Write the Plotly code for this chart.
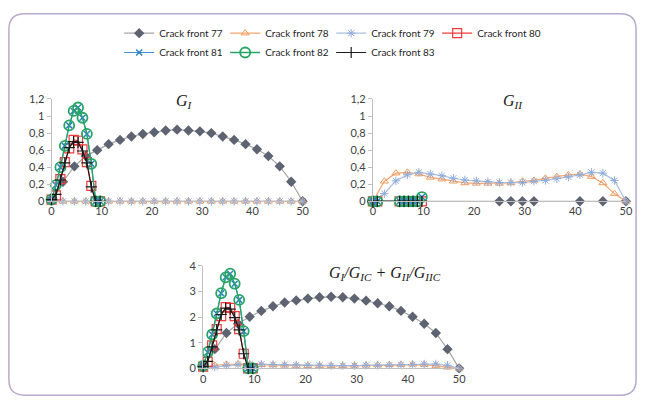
import plotly.graph_objects as go

# ---------------- data ----------------
series_names = ["Crack front 77", "Crack front 78", "Crack front 79", "Crack front 80",
                "Crack front 81", "Crack front 82", "Crack front 83"]

# long crack fronts (77, 78, 79) positions
x_long = [0, 2.27, 4.55, 6.82, 9.09, 11.36, 13.64, 15.91, 18.18, 20.45, 22.73, 25,
          27.27, 29.55, 31.82, 34.09, 36.36, 38.64, 40.91, 43.18, 45.45, 47.73, 50]
# short crack fronts (80-83) positions
x_short = [0, 0.88, 1.76, 2.64, 3.52, 4.4, 5.28, 6.16, 7.04, 7.92, 8.8, 9.68]

# ---- G_I ----
gi_77 = [0.02, 0.23, 0.41, 0.53, 0.60, 0.67, 0.72, 0.76, 0.79, 0.81, 0.83, 0.84,
         0.83, 0.82, 0.80, 0.76, 0.72, 0.67, 0.61, 0.53, 0.41, 0.23, 0]
gi_78 = [0] * 23
gi_79 = [0] * 23
gi_80 = [0.02, 0.07, 0.26, 0.46, 0.62, 0.72, 0.71, 0.61, 0.46, 0.18, 0, 0]
gi_81 = [0.02, 0.19, 0.40, 0.65, 0.89, 1.06, 1.10, 0.98, 0.79, 0.44, 0, 0]
gi_82 = [0.02, 0.19, 0.40, 0.65, 0.89, 1.06, 1.10, 0.98, 0.79, 0.44, 0, 0]
gi_83 = [0.02, 0.08, 0.25, 0.45, 0.63, 0.70, 0.69, 0.59, 0.45, 0.17, 0, 0]

# ---- G_II ----
gii_77 = [0, None, None, None, None, None, None, None, None, None, None, 0,
          0, 0, 0, None, None, None, 0, None, 0, None, 0]
gii_78 = [0, 0.235, 0.33, 0.34, 0.32, 0.28, 0.26, 0.235, 0.215, 0.21, 0.21, 0.21,
          0.215, 0.235, 0.245, 0.27, 0.29, 0.31, 0.32, 0.29, 0.215, 0.09, 0]
gii_79 = [0, 0.09, 0.24, 0.31, 0.34, 0.32, 0.30, 0.27, 0.25, 0.24, 0.23, 0.22,
          0.22, 0.22, 0.235, 0.245, 0.265, 0.285, 0.31, 0.34, 0.33, 0.245, 0]
gii_80 = [0, 0, None, None, None, None, 0, 0, 0, 0, 0, 0]
gii_81 = [0, 0, None, None, None, None, 0, 0, 0, 0, 0, 0.05]
gii_82 = [0, 0, None, None, None, None, 0, 0, 0, 0, 0, 0.05]
gii_83 = [0, 0, None, None, None, None, 0, 0, 0, 0, 0, 0]

# ---- G_I/G_IC + G_II/G_IIC ----
gc_77 = [0.09, 0.75, 1.38, 1.74, 2.01, 2.24, 2.42, 2.57, 2.65, 2.72, 2.77, 2.79,
         2.77, 2.72, 2.64, 2.54, 2.42, 2.24, 2.01, 1.74, 1.38, 0.75, 0]
gc_78 = [0, 0.12, 0.16, 0.17, 0.16, 0.14, 0.13, 0.12, 0.11, 0.10, 0.10, 0.10,
         0.10, 0.11, 0.12, 0.13, 0.14, 0.15, 0.16, 0.15, 0.11, 0.04, 0]
gc_79 = [0, 0.05, 0.12, 0.15, 0.17, 0.16, 0.15, 0.14, 0.13, 0.12, 0.12, 0.11,
         0.11, 0.11, 0.12, 0.12, 0.13, 0.14, 0.15, 0.17, 0.17, 0.12, 0]
gc_80 = [0.07, 0.25, 0.90, 1.53, 2.04, 2.39, 2.36, 2.04, 1.53, 0.57, 0, 0]
gc_81 = [0.10, 0.63, 1.32, 2.14, 2.93, 3.55, 3.69, 3.30, 2.67, 1.45, 0, 0]
gc_82 = [0.10, 0.63, 1.32, 2.14, 2.93, 3.55, 3.69, 3.30, 2.67, 1.45, 0, 0]
gc_83 = [0.07, 0.27, 0.84, 1.50, 2.10, 2.35, 2.31, 1.98, 1.50, 0.57, 0, 0]

x_ticks = [0, 10, 20, 30, 40, 50]
y_ticks_g = [0, 0.2, 0.4, 0.6, 0.8, 1, 1.2]
y_ticktext_g = ["0", "0,2", "0,4", "0,6", "0,8", "1", "1,2"]
y_ticks_c = [0, 1, 2, 3, 4]

# ---------------- styles ----------------
styles = {
    "Crack front 77": dict(line=dict(color="#a6a6a6", width=1.2),
                           marker=dict(symbol="diamond", size=8, color="#5d6370")),
    "Crack front 78": dict(line=dict(color="#f2a56e", width=1.2),
                           marker=dict(symbol="triangle-up-open", size=7, color="#f09a5c",
                                       line=dict(width=1))),
    "Crack front 79": dict(line=dict(color="#a9bfe3", width=1.2),
                           marker=dict(symbol="asterisk-open", size=7, color="#8fabd9",
                                       line=dict(width=1))),
    "Crack front 80": dict(line=dict(color="#ef3b3b", width=1.2),
                           marker=dict(symbol="square-open", size=9, color="#ef3b3b",
                                       line=dict(width=1.2))),
    "Crack front 81": dict(line=dict(color="#3f8fd2", width=1.2),
                           marker=dict(symbol="x-thin-open", size=6, color="#2f7fc8",
                                       line=dict(width=1.5))),
    "Crack front 82": dict(line=dict(color="#27a565", width=1.3),
                           marker=dict(symbol="circle-open", size=10, color="#27a565",
                                       line=dict(width=1.8))),
    "Crack front 83": dict(line=dict(color="#1a1a1a", width=1.2),
                           marker=dict(symbol="cross-thin-open", size=8, color="#1a1a1a",
                                       line=dict(width=1.2))),
}

panels = [
    ("x", "y", [gi_77, gi_78, gi_79, gi_80, gi_81, gi_82, gi_83]),
    ("x2", "y2", [gii_77, gii_78, gii_79, gii_80, gii_81, gii_82, gii_83]),
    ("x3", "y3", [gc_77, gc_78, gc_79, gc_80, gc_81, gc_82, gc_83]),
]

fig = go.Figure()
for pi, (xa, ya, ys) in enumerate(panels):
    for si, name in enumerate(series_names):
        xs = x_long if si < 3 else x_short
        st = styles[name]
        fig.add_trace(go.Scatter(
            x=xs, y=ys[si], mode="lines+markers", name=name,
            line=st["line"], marker=st["marker"], xaxis=xa, yaxis=ya,
            connectgaps=True, cliponaxis=False,
            showlegend=(pi == 0),
            legend=("legend" if si < 4 else "legend2"),
        ))

W, H = 646, 407
def px_x(p):
    return p / W
def px_y(p):
    return 1 - p / H

tick_font = dict(family="Lato, Liberation Sans, sans-serif", size=11, color="#404040")
axis_common = dict(showline=True, linecolor="#bfbfbf", linewidth=1, showgrid=False,
                   zeroline=False, tickfont=tick_font, fixedrange=True)

def xax(d0, d1, anchor):
    return dict(domain=[d0, d1], range=[0, 50], tickvals=x_ticks, anchor=anchor,
                ticks="", **axis_common)

def yax(d0, d1, anchor, rng, tv, tt):
    return dict(domain=[d0, d1], range=rng, tickvals=tv, ticktext=tt, anchor=anchor,
                ticks="outside", ticklen=4, tickcolor="#bfbfbf", **axis_common)

legend_font = dict(family="Lato, Liberation Sans, sans-serif", size=10, color="#262626")
fig.update_layout(
    width=W, height=H,
    margin=dict(l=0, r=0, t=0, b=0),
    paper_bgcolor="white", plot_bgcolor="white",
    xaxis=xax(px_x(49.3), px_x(304.3), "y"),
    yaxis=yax(px_y(200.7), px_y(95), "x", [0, 1.2], y_ticks_g, y_ticktext_g),
    xaxis2=xax(px_x(375.7), px_x(632.7), "y2"),
    yaxis2=yax(px_y(200.7), px_y(95), "x2", [0, 1.2], y_ticks_g, y_ticktext_g),
    xaxis3=xax(px_x(203.3), px_x(463.3), "y3"),
    yaxis3=yax(px_y(373.3), px_y(267.3), "x3", [0, 4], y_ticks_c, [str(v) for v in y_ticks_c]),
    legend=dict(orientation="h", x=px_x(118), y=px_y(27), xanchor="left", yanchor="middle",
                entrywidth=61, entrywidthmode="pixels", font=legend_font,
                bgcolor="rgba(0,0,0,0)"),
    legend2=dict(orientation="h", x=px_x(118), y=px_y(47), xanchor="left", yanchor="middle",
                 entrywidth=61, entrywidthmode="pixels", font=legend_font,
                 bgcolor="rgba(0,0,0,0)"),
    showlegend=True,
)

serif = dict(family="Liberation Serif, Times New Roman, serif", size=16, color="#1a1a1a")
fig.add_annotation(text="<i>G<sub>I</sub></i>", x=px_x(184), y=px_y(98), xref="paper", yref="paper",
                   xanchor="center", yanchor="middle", showarrow=False, font=serif)
fig.add_annotation(text="<i>G<sub>II</sub></i>", x=px_x(518), y=px_y(98), xref="paper", yref="paper",
                   xanchor="center", yanchor="middle", showarrow=False, font=serif)
fig.add_annotation(text="<i>G<sub>I</sub>/G<sub>IC</sub> + G<sub>II</sub>/G<sub>IIC</sub></i>",
                   x=px_x(388), y=px_y(275), xref="paper", yref="paper",
                   xanchor="center", yanchor="middle", showarrow=False, font=serif)

# rounded frame
x0, x1, y0, y1 = px_x(6), px_x(643), px_y(401), px_y(7)
rx, ry = 16 / W, 16 / H
path = (f"M {x0+rx},{y1} L {x1-rx},{y1} Q {x1},{y1} {x1},{y1-ry} "
        f"L {x1},{y0+ry} Q {x1},{y0} {x1-rx},{y0} L {x0+rx},{y0} "
        f"Q {x0},{y0} {x0},{y0+ry} L {x0},{y1-ry} Q {x0},{y1} {x0+rx},{y1} Z")
fig.add_shape(type="path", path=path, xref="paper", yref="paper",
              line=dict(color="#b9a9cc", width=1.5), layer="below")

fig.write_html("out.html", config={"displayModeBar": False},
               post_script="document.body.style.margin='0';document.body.style.padding='0';"
                           "document.documentElement.style.overflow='hidden';")
